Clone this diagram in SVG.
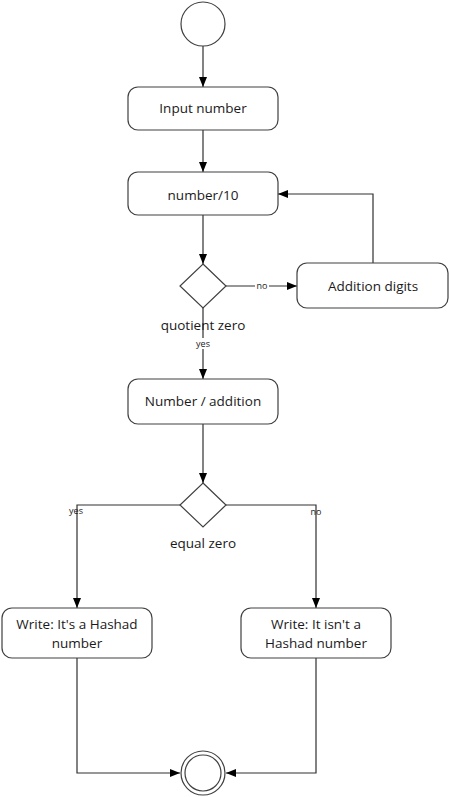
<svg xmlns="http://www.w3.org/2000/svg" width="449" height="797" viewBox="0 0 449 797">
<style>
.n{fill:#fff;stroke:#404040;stroke-width:1.2}
.c{fill:none;stroke:#303030;stroke-width:1.2}
.t{font-family:"Open Sans","Liberation Sans",sans-serif;font-size:13.5px;fill:#1a1a1a;text-anchor:middle}
.s{font-family:"Open Sans","Liberation Sans",sans-serif;font-size:9px;fill:#1a1a1a;text-anchor:middle}
</style>
<defs>
<marker id="a" markerWidth="10" markerHeight="10" refX="10" refY="5" orient="auto" markerUnits="userSpaceOnUse">
<path d="M0,1 L10,5 L0,9 Z" fill="#000"/>
</marker>
</defs>
<rect width="449" height="797" fill="#fff"/>
<g id="connectors">
<line class="c" x1="203" y1="46" x2="203" y2="87" marker-end="url(#a)"/>
<line class="c" x1="203" y1="130" x2="203" y2="172" marker-end="url(#a)"/>
<line class="c" x1="203" y1="215" x2="203" y2="264" marker-end="url(#a)"/>
<line class="c" x1="226" y1="286" x2="297" y2="286" marker-end="url(#a)"/>
<rect x="255" y="281" width="14" height="10" fill="#fff"/>
<text class="s" x="262" y="289">no</text>
<polyline class="c" points="373,263 373,194 278,194" marker-end="url(#a)"/>
<line class="c" x1="203" y1="308" x2="203" y2="379" marker-end="url(#a)"/>
<rect x="194" y="338" width="18" height="11" fill="#fff"/>
<text class="s" x="203" y="347">yes</text>
<line class="c" x1="203" y1="424" x2="203" y2="483" marker-end="url(#a)"/>
<polyline class="c" points="180,505 77,505 77,608" marker-end="url(#a)"/>
<polyline class="c" points="226,505 316,505 316,608" marker-end="url(#a)"/>
<text class="s" x="76" y="514">yes</text>
<text class="s" x="316" y="515">no</text>
<polyline class="c" points="77,658 77,773 180,773" marker-end="url(#a)"/>
<polyline class="c" points="316,658 316,773 226,773" marker-end="url(#a)"/>
</g>
<g id="start">
<circle class="n" cx="203" cy="24" r="22"/>
</g>
<g id="input">
<rect class="n" x="128" y="87" width="150" height="43" rx="10"/>
<text class="t" x="203" y="113">Input number</text>
</g>
<g id="divide">
<rect class="n" x="128" y="172" width="150" height="43" rx="10"/>
<text class="t" x="203" y="200">number/10</text>
</g>
<g id="decision1">
<polygon class="n" points="203,264 226,286 203,308 180,286"/>
<text class="t" x="203" y="330">quotient zero</text>
</g>
<g id="addition">
<rect class="n" x="297" y="263" width="151" height="45" rx="10"/>
<text class="t" x="373" y="291">Addition digits</text>
</g>
<g id="numadd">
<rect class="n" x="128" y="379" width="150" height="45" rx="10"/>
<text class="t" x="203" y="406">Number / addition</text>
</g>
<g id="decision2">
<polygon class="n" points="203,483 226,505 203,527 180,505"/>
<text class="t" x="203" y="548">equal zero</text>
</g>
<g id="yesbox">
<rect class="n" x="2" y="608" width="150" height="50" rx="10"/>
<text class="t" x="77" y="629">Write: It's a Hashad</text>
<text class="t" x="77" y="648">number</text>
</g>
<g id="nobox">
<rect class="n" x="241" y="608" width="150" height="50" rx="10"/>
<text class="t" x="316" y="629">Write: It isn't a</text>
<text class="t" x="316" y="648">Hashad number</text>
</g>
<g id="end">
<circle class="n" cx="203" cy="773" r="22"/>
<circle class="n" cx="203" cy="773" r="18"/>
</g>
</svg>
